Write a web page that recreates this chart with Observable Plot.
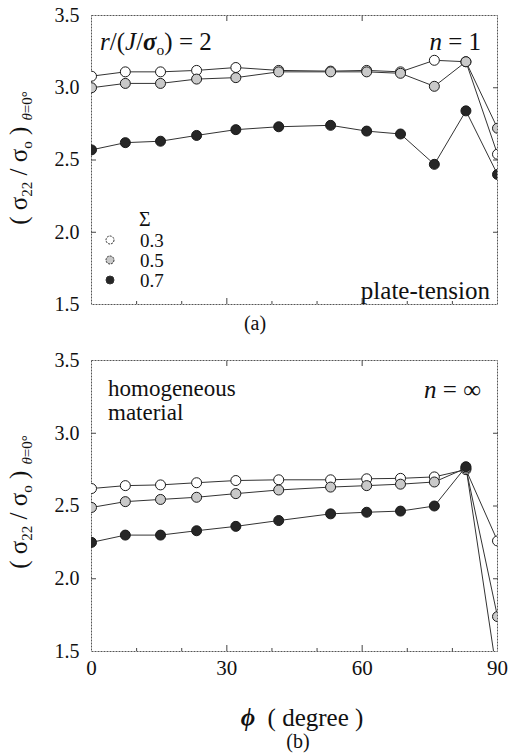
<!DOCTYPE html>
<html><head><meta charset="utf-8">
<script src="https://cdn.jsdelivr.net/npm/d3@7"></script>
<script src="https://cdn.jsdelivr.net/npm/@observablehq/plot@0.6"></script>
<style>
body{margin:0;background:#fff;}
#wrap{position:relative;width:509px;height:755px;font-family:'Liberation Serif','Times New Roman',Tinos,serif;color:#111;overflow:hidden;background:#fff;}
.t{position:absolute;white-space:nowrap;line-height:1;}
.t sub{font-size:0.62em;vertical-align:-0.3em;line-height:0;}
.box{position:absolute;left:0;}
.ylab{position:absolute;white-space:nowrap;line-height:1;transform:translate(-50%,-50%) rotate(-90deg);font-size:25px;}
.ylab sub{font-size:0.6em;vertical-align:-0.35em;line-height:0;}
</style></head><body><div id="wrap"></div>
<script>
// ---- data ----
const phi = [0, 7.5, 15.3, 23.3, 32, 41.5, 53, 61, 68.5, 76, 83, 90];
const sigmaLevels = ["0.3", "0.5", "0.7"];
// panel (a): plate-tension, n = 1
const a_s03 = [3.08, 3.11, 3.11, 3.12, 3.14, 3.12, 3.115, 3.12, 3.11, 3.19, 3.18, 2.54];
const a_s05 = [3.00, 3.03, 3.03, 3.06, 3.07, 3.11, 3.11, 3.11, 3.10, 3.01, 3.18, 2.72];
const a_s07 = [2.57, 2.62, 2.63, 2.67, 2.71, 2.73, 2.74, 2.70, 2.68, 2.47, 2.84, 2.40];
// panel (b): homogeneous material, n = ∞
const b_s03 = [2.62, 2.64, 2.645, 2.66, 2.675, 2.68, 2.68, 2.687, 2.69, 2.70, 2.75, 2.26];
const b_s05 = [2.49, 2.53, 2.545, 2.56, 2.585, 2.61, 2.63, 2.64, 2.65, 2.665, 2.76, 1.74];
const b_s07 = [2.25, 2.30, 2.30, 2.33, 2.36, 2.40, 2.446, 2.457, 2.465, 2.50, 2.77, 1.32];
const yTickValues = [1.5, 2.0, 2.5, 3.0, 3.5];
const xTickLabels = [0, 30, 60, 90];
const xMinorTicks = [10, 20, 40, 50, 70, 80];
const sigmaFills = ["#ffffff", "#c9c9c9", "#262626"];

function tidy(series) {
  return series.flatMap((vals, k) => vals.map((v, i) => ({phi: phi[i], v, s: sigmaLevels[k]})));
}
const dataA = tidy([a_s03, a_s05, a_s07]);
const dataB = tidy([b_s03, b_s05, b_s07]);

const wrap = document.getElementById("wrap");
const FONT = "'Liberation Serif', 'Times New Roman', Tinos, serif";

function panel(data, {height, marginBottom, xLabels}) {
  const none = () => "";
  const marks = [
    Plot.frame({stroke: "#555", strokeDasharray: "2,1"}),
    Plot.axisY(yTickValues, {anchor: "left", tickSize: 0, tickPadding: 12, tickFormat: d3.format(".1f"), fontSize: 20, label: null}),
    Plot.axisY(yTickValues.slice(1, -1), {anchor: "left", tickSize: -5, tickFormat: none, label: null, stroke: "#444"}),
    Plot.axisY(yTickValues.slice(1, -1), {anchor: "right", tickSize: -5, tickFormat: none, label: null, stroke: "#444"}),
    Plot.axisX(xTickLabels.slice(1, -1), {anchor: "bottom", tickSize: -6, tickFormat: none, label: null, stroke: "#444"}),
    Plot.axisX(xMinorTicks, {anchor: "bottom", tickSize: -3, tickFormat: none, label: null, stroke: "#444"}),
    Plot.axisX(xTickLabels.slice(1, -1), {anchor: "top", tickSize: -5, tickFormat: none, label: null, stroke: "#444"}),
    Plot.line(data, {x: "phi", y: "v", z: "s", stroke: "#333", strokeWidth: 1, clip: true}),
    Plot.dot(data, {x: "phi", y: "v", fill: "s", stroke: "#1a1a1a", strokeWidth: 1, r: 5, clip: true})
  ];
  if (xLabels) marks.push(Plot.axisX(xTickLabels, {anchor: "bottom", tickSize: 0, tickPadding: 9, fontSize: 21, label: null}));
  return Plot.plot({
    width: 509, height, marginTop: 15, marginBottom, marginLeft: 91, marginRight: 12,
    x: {domain: [0, 90]},
    y: {domain: [1.5, 3.5]},
    color: {type: "ordinal", domain: sigmaLevels, range: sigmaFills},
    style: {fontFamily: FONT, background: "transparent", color: "#111"},
    marks
  });
}

const svgA = panel(dataA, {height: 316, marginBottom: 12, xLabels: false});
svgA.classList.add("box"); svgA.style.top = "0px";
wrap.appendChild(svgA);
const svgB = panel(dataB, {height: 336, marginBottom: 30, xLabels: true});
svgB.classList.add("box"); svgB.style.top = "345px";
wrap.appendChild(svgB);

function addText(html, {x, base, size, align = "left"}) {
  const d = document.createElement("div");
  d.className = "t";
  d.innerHTML = html;
  d.style.fontSize = size + "px";
  d.style.top = (base - 0.8375 * size) + "px";
  if (align === "left") d.style.left = x + "px";
  else if (align === "right") d.style.right = (509 - x) + "px";
  else { d.style.left = x + "px"; d.style.transform = "translateX(-50%)"; }
  wrap.appendChild(d);
}

// panel (a) annotations
addText("<i>r</i>/(<i>J</i>/<i><b>σ</b></i><sub>o</sub>) = 2", {x: 100, base: 50, size: 25});
addText("<i>n</i> = 1", {x: 481, base: 50, size: 25, align: "right"});
addText("plate-tension", {x: 490, base: 299, size: 25, align: "right"});
addText("(a)", {x: 255, base: 330, size: 20, align: "center"});
// legend
addText("Σ", {x: 139, base: 226, size: 20});
sigmaLevels.forEach((s, i) => {
  addText(s, {x: 140, base: 247 + 20 * i, size: 19});
  const c = document.createElementNS("http://www.w3.org/2000/svg", "svg");
  c.setAttribute("width", 12); c.setAttribute("height", 12);
  c.style.position = "absolute"; c.style.left = "104px"; c.style.top = (234 + 20 * i) + "px";
  const circ = document.createElementNS("http://www.w3.org/2000/svg", "circle");
  circ.setAttribute("cx", 6); circ.setAttribute("cy", 6); circ.setAttribute("r", 4);
  circ.setAttribute("fill", sigmaFills[i]); circ.setAttribute("stroke", "#333"); circ.setAttribute("stroke-width", 1);
  circ.setAttribute("stroke-dasharray", i === 2 ? "none" : "2,1");
  c.appendChild(circ); wrap.appendChild(c);
});

// panel (b) annotations
addText("homogeneous", {x: 108, base: 396, size: 23});
addText("material", {x: 108, base: 420, size: 23});
addText("<i>n</i> = ∞", {x: 481, base: 398, size: 25, align: "right"});
addText("<b><i>ϕ</i></b>&nbsp; ( degree )", {x: 302, base: 726, size: 25, align: "center"});
addText("(b)", {x: 298, base: 748, size: 20, align: "center"});

// y-axis labels
function yLabel(cy) {
  const d = document.createElement("div");
  d.className = "ylab";
  d.innerHTML = "( σ<sub>22</sub> / σ<sub>o</sub> ) <sub><i>θ</i>=0°</sub>";
  d.style.left = "18px"; d.style.top = cy + "px";
  wrap.appendChild(d);
}
yLabel(158);
yLabel(502);
</script></body></html>
